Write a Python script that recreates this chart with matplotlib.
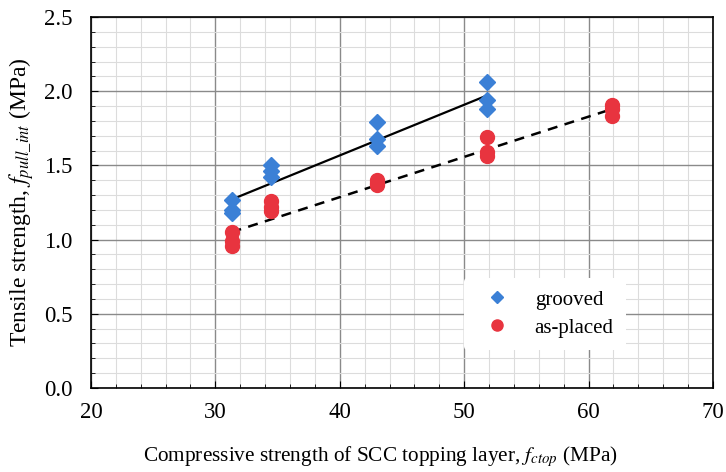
import numpy as np
from matplotlib import pyplot as plt
from matplotlib.ticker import MultipleLocator

# grooved specimens
grooved_x = [31.3, 31.3, 31.3, 34.5, 34.5, 34.5, 43.0, 43.0, 43.0, 51.8, 51.8, 51.8]
grooved_y = [1.27, 1.20, 1.18, 1.50, 1.46, 1.42, 1.79, 1.68, 1.63, 2.06, 1.94, 1.88]

# as-placed specimens
placed_x = [31.3, 31.3, 31.3, 34.5, 34.5, 34.5, 43.0, 43.0, 43.0,
            51.8, 51.8, 51.8, 61.9, 61.9, 61.9]
placed_y = [1.05, 0.99, 0.96, 1.26, 1.22, 1.19, 1.40, 1.38, 1.37,
            1.69, 1.59, 1.56, 1.91, 1.88, 1.83]

# trend lines
grooved_fit_x = [31.3, 51.8]
grooved_fit_y = [1.27, 1.97]
placed_fit_x = [31.3, 61.9]
placed_fit_y = [1.05, 1.88]

plt.rcParams['font.family'] = ['Liberation Serif', 'DejaVu Serif']
plt.rcParams['mathtext.fontset'] = 'stix'

f = plt.figure(figsize=(7.26, 4.72), dpi=100)
ax = f.add_axes([0.1253, 0.178, 0.8567, 0.786])

ax.plot(grooved_fit_x, grooved_fit_y, color='k', lw=1.6, zorder=3)
ax.plot(placed_fit_x, placed_fit_y, color='k', lw=1.8, ls=(0, (4, 3)), zorder=3)

ax.plot(grooved_x, grooved_y, ls='none', marker='D', ms=8, color='#3b80d6',
        label='grooved', zorder=4)
ax.plot(placed_x, placed_y, ls='none', marker='o', ms=10, color='#e8343f',
        label='as-placed', zorder=4)

ax.set_xlim(20, 70)
ax.set_ylim(0, 2.5)
ax.xaxis.set_major_locator(MultipleLocator(10))
ax.xaxis.set_minor_locator(MultipleLocator(2))
ax.yaxis.set_major_locator(MultipleLocator(0.5))
ax.yaxis.set_minor_locator(MultipleLocator(0.1))
ax.yaxis.set_major_formatter(plt.FormatStrFormatter('%.1f'))

ax.grid(which='major', color='#8a8a8a', lw=1.0)
ax.grid(which='minor', color='#dcdcdc', lw=0.8)
ax.set_axisbelow(True)

ax.tick_params(which='both', direction='in', labelsize=16.5)
ax.tick_params(axis='y', pad=13)
ax.tick_params(axis='x', pad=10)
ax.tick_params(which='major', length=5)
ax.tick_params(which='minor', length=3)
for s in ax.spines.values():
    s.set_linewidth(1.2)

ax.set_xlabel(r'Compressive strength of SCC topping layer, $f_{ctop}$ (MPa)',
              fontsize=15.3)
ax.xaxis.set_label_coords(0.465, -0.152)
ax.set_ylabel(r'Tensile strength, $f_{pull\_int}$ (MPa)', fontsize=17, labelpad=6)

ax.legend(loc='center', bbox_to_anchor=(0.73, 0.2), frameon=True, fontsize=15,
          framealpha=1, edgecolor='none', handletextpad=0.8, borderpad=0.6,
          markerscale=0.8, labelspacing=0.4)

plt.savefig('out.png')
